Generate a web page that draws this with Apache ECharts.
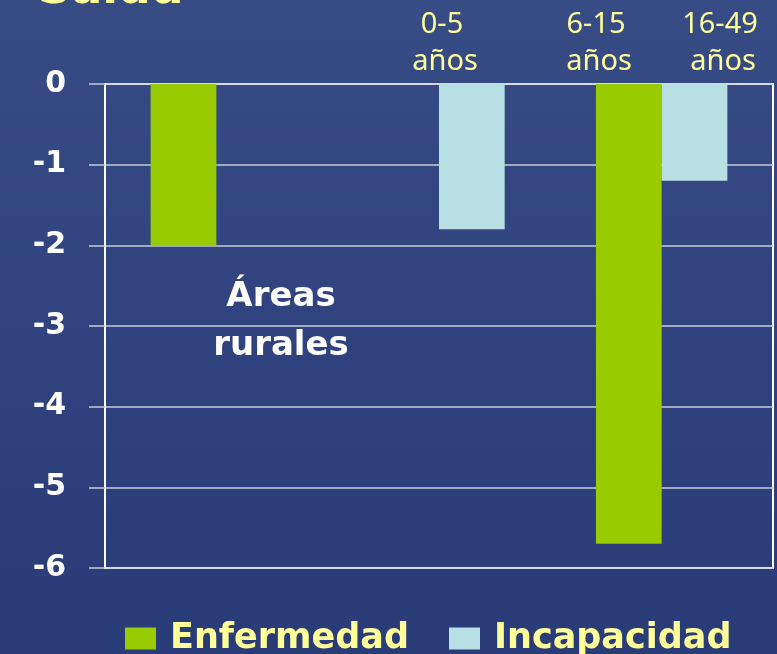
<!DOCTYPE html>
<html>
<head>
<meta charset="utf-8">
<script src="https://cdn.jsdelivr.net/npm/echarts@6/dist/echarts.min.js"></script>
<style>
  html, body { margin: 0; padding: 0; }
  #chart { width: 777px; height: 654px; }
</style>
</head>
<body>
<div id="chart"></div>
<script>
// age groups (categories) and values
var ageGroups = ['0-5 años', '6-15 años', '16-49 años'];
var enfermedad = [-2, null, -5.7];
var incapacidad = [null, -1.8, -1.2];
var yTicks = [0, -1, -2, -3, -4, -5, -6];

var yellow = '#ffff99';
var chart = echarts.init(document.getElementById('chart'));

// labels above the plot, placed like on the slide
var topPos = [[442, 25, 62], [596, 25, 62], [720, 25, 62]];
var topTexts = [];
ageGroups.forEach(function (g, i) {
  var parts = g.split(' ');
  topTexts.push({
    type: 'text', x: topPos[i][0], y: topPos[i][1],
    style: { text: parts[0], fill: yellow, font: '29px "Noto Sans"', align: 'center', verticalAlign: 'middle' }
  });
  topTexts.push({
    type: 'text', x: topPos[i][0] + 3, y: topPos[i][2],
    style: { text: parts[1], fill: yellow, font: '29px "Noto Sans"', align: 'center', verticalAlign: 'middle' }
  });
});

var option = {
  backgroundColor: {
    type: 'linear', x: 0, y: 0, x2: 0, y2: 1,
    colorStops: [
      { offset: 0, color: '#374b85' },
      { offset: 0.5, color: '#30437e' },
      { offset: 1, color: '#2a3c77' }
    ]
  },
  animation: false,
  grid: {
    left: 105, right: 4, top: 84, bottom: 86,
    show: true, borderColor: '#ffffff', borderWidth: 2
  },
  legend: {
    left: 120, top: 616,
    itemWidth: 31, itemHeight: 22, itemGap: 40,
    icon: 'rect',
    data: ['Enfermedad', 'Incapacidad'],
    textStyle: {
      color: yellow, fontSize: 35, fontWeight: 'bold',
      fontFamily: 'DejaVu Sans', padding: [0, 0, 0, 9]
    }
  },
  xAxis: {
    type: 'category',
    data: ageGroups,
    position: 'top',
    axisLine: { show: false },
    axisTick: { show: false },
    axisLabel: { show: false }
  },
  yAxis: {
    type: 'value',
    min: -6, max: 0, interval: 1,
    axisLine: { show: true, lineStyle: { color: '#ffffff', width: 2 } },
    axisTick: { show: true, length: 16, lineStyle: { color: '#c8ccd8', width: 1.5 } },
    splitLine: { lineStyle: { color: '#c8ccd8', width: 1.5 } },
    axisLabel: {
      margin: 39, color: '#ffffff', fontSize: 30, fontWeight: 'bold',
      fontFamily: 'DejaVu Sans',
      formatter: function (v) { return yTicks.indexOf(v) >= 0 ? String(v) : ''; }
    }
  },
  series: [
    {
      name: 'Enfermedad', type: 'bar', data: enfermedad,
      barGap: '0%', barCategoryGap: '41%',
      itemStyle: { color: '#99cc00' }
    },
    {
      name: 'Incapacidad', type: 'bar', data: incapacidad,
      itemStyle: { color: '#b8e0e4' }
    }
  ],
  graphic: [
    {
      type: 'text', x: 38, y: 14, z: 10,
      style: { text: 'Salud', fill: yellow, font: 'bold 46px "DejaVu Sans"', verticalAlign: 'bottom' }
    },
    {
      type: 'text', x: 281, y: 297, z: 10,
      style: { text: 'Áreas', fill: '#ffffff', font: 'bold 34px "DejaVu Sans"', align: 'center', verticalAlign: 'middle' }
    },
    {
      type: 'text', x: 281, y: 346, z: 10,
      style: { text: 'rurales', fill: '#ffffff', font: 'bold 34px "DejaVu Sans"', align: 'center', verticalAlign: 'middle' }
    }
  ].concat(topTexts)
};

chart.setOption(option);
</script>
</body>
</html>
